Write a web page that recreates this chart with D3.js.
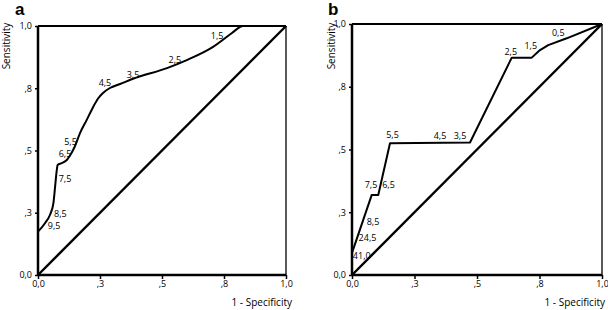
<!DOCTYPE html>
<html lang="en">
<head>
<meta charset="UTF-8">
<title>ROC curves a and b</title>
<script src="https://d3js.org/d3.v7.min.js"></script>
<style>
  body { margin: 0; background: #fff; }
  svg text { font-family: "Open Sans", "DejaVu Sans", sans-serif; fill: #000; }
  .tick text { font-size: 9px; }
  .cut { font-size: 9px; }
  .axis-title { font-size: 10px; }
  .panel-letter { font-size: 17px; font-weight: bold; font-family: "Liberation Sans", Arial, sans-serif; }
</style>
</head>
<body>
<svg id="chart" width="608" height="310"></svg>
<script>
// tick values and their printed labels (SPSS style rounding)
const tickValues = [0, 0.25, 0.5, 0.75, 1];
const tickLabels = ["0,0", ",3", ",5", ",8", "1,0"];

// panel a: ROC curve (1 - specificity, sensitivity)
const rocA_fpr  = [0, 0.028, 0.048, 0.062, 0.069, 0.075, 0.079, 0.096, 0.116, 0.129, 0.148, 0.169, 0.196, 0.223, 0.243, 0.262, 0.29, 0.331, 0.383, 0.52, 0.6, 0.706, 0.782, 0.815, 0.823];
const rocA_sens = [0.174, 0.208, 0.241, 0.288, 0.355, 0.415, 0.442, 0.449, 0.462, 0.48, 0.515, 0.569, 0.622, 0.676, 0.71, 0.731, 0.751, 0.767, 0.788, 0.831, 0.863, 0.916, 0.972, 0.996, 1];
// cut-off labels of panel a
const cutA_text = ["1,5", "2,5", "3,5", "4,5", "5,5", "6,5", "7,5", "8,5", "9,5"];
const cutA_fpr  = [0.722, 0.552, 0.383, 0.27, 0.131, 0.109, 0.109, 0.09, 0.065];
const cutA_sens = [0.96, 0.867, 0.805, 0.773, 0.537, 0.489, 0.388, 0.248, 0.2];

// panel b
const rocB_fpr  = [0, 0.079, 0.105, 0.152, 0.472, 0.639, 0.719, 0.752, 0.785, 0.859, 1];
const rocB_sens = [0.088, 0.319, 0.319, 0.525, 0.528, 0.866, 0.866, 0.896, 0.916, 0.943, 1];
const cutB_text = ["0,5", "1,5", "2,5", "3,5", "4,5", "5,5", "6,5", "7,5", "8,5", "24,5", "41,0"];
const cutB_fpr  = [0.825, 0.715, 0.635, 0.432, 0.352, 0.162, 0.146, 0.076, 0.084, 0.062, 0.039];
const cutB_sens = [0.965, 0.916, 0.89, 0.554, 0.554, 0.558, 0.359, 0.359, 0.212, 0.15, 0.076];

// reference line
const diag = [0, 1];

const svg = d3.select("#chart");

function drawPanel(opt) {
    const x = d3.scaleLinear().domain([0, 1]).range([opt.left, opt.right]);
    const y = d3.scaleLinear().domain([0, 1]).range([opt.bottom, opt.top]);
    const g = svg.append("g");

    // axes (ticks only, frame drawn below)
    const xAxis = g.append("g")
        .attr("transform", `translate(0,${opt.bottom})`)
        .call(d3.axisBottom(x).tickValues(tickValues).tickSize(4).tickPadding(2)
            .tickFormat((d, i) => tickLabels[i]));
    const yAxis = g.append("g")
        .attr("transform", `translate(${opt.left},0)`)
        .call(d3.axisLeft(y).tickValues(tickValues).tickSize(3).tickPadding(3)
            .tickFormat((d, i) => tickLabels[i]));
    [xAxis, yAxis].forEach(a => {
        a.select(".domain").remove();
        a.selectAll(".tick line").attr("stroke", "#000").attr("stroke-width", 1.5);
    });

    // frame
    g.append("line").attr("x1", x(0)).attr("x2", x(1)).attr("y1", y(1)).attr("y2", y(1))
        .attr("stroke", "#000").attr("stroke-width", 2);
    g.append("line").attr("x1", x(1)).attr("x2", x(1)).attr("y1", y(1)).attr("y2", y(0))
        .attr("stroke", "#000").attr("stroke-width", 1.3);
    g.append("line").attr("x1", x(0)).attr("x2", x(1)).attr("y1", y(0)).attr("y2", y(0))
        .attr("stroke", "#000").attr("stroke-width", 2.5);
    g.append("line").attr("x1", x(0)).attr("x2", x(0)).attr("y1", y(1)).attr("y2", y(0))
        .attr("stroke", "#000").attr("stroke-width", 2.5);

    // diagonal
    g.append("line")
        .attr("x1", x(diag[0])).attr("y1", y(diag[0]))
        .attr("x2", x(diag[1])).attr("y2", y(diag[1]))
        .attr("stroke", "#000").attr("stroke-width", 2.4);

    // ROC curve
    const pts = opt.fpr.map((d, i) => [d, opt.sens[i]]);
    g.append("path")
        .datum(pts)
        .attr("fill", "none")
        .attr("stroke", "#000")
        .attr("stroke-width", 2)
        .attr("stroke-linejoin", "round")
        .attr("d", d3.line().x(d => x(d[0])).y(d => y(d[1])).curve(opt.curve));

    // cut-off labels
    g.selectAll(".cut")
        .data(opt.cutText)
        .enter().append("text")
        .attr("class", "cut")
        .attr("x", (d, i) => x(opt.cutFpr[i]))
        .attr("y", (d, i) => y(opt.cutSens[i]))
        .attr("text-anchor", "middle")
        .attr("dominant-baseline", "central")
        .text(d => d);

    // titles
    g.append("text").attr("class", "axis-title")
        .attr("x", opt.titleEnd).attr("y", 306)
        .attr("text-anchor", "end")
        .text("1 - Specificity");
    g.append("text").attr("class", "axis-title")
        .attr("transform", `translate(${opt.sensX},46) rotate(-90)`)
        .attr("text-anchor", "middle")
        .attr("dominant-baseline", "central")
        .text("Sensitivity");
    g.append("text").attr("class", "panel-letter")
        .attr("x", opt.letterX).attr("y", 15)
        .text(opt.letter);
}

drawPanel({
    left: 38, right: 286, top: 26, bottom: 275,
    fpr: rocA_fpr, sens: rocA_sens, curve: d3.curveMonotoneX,
    cutText: cutA_text, cutFpr: cutA_fpr, cutSens: cutA_sens,
    sensX: 6, titleEnd: 292, letter: "a", letterX: 15
});

drawPanel({
    left: 352, right: 602, top: 24, bottom: 275,
    fpr: rocB_fpr, sens: rocB_sens, curve: d3.curveLinear,
    cutText: cutB_text, cutFpr: cutB_fpr, cutSens: cutB_sens,
    sensX: 331, titleEnd: 605, letter: "b", letterX: 328
});
</script>
</body>
</html>
